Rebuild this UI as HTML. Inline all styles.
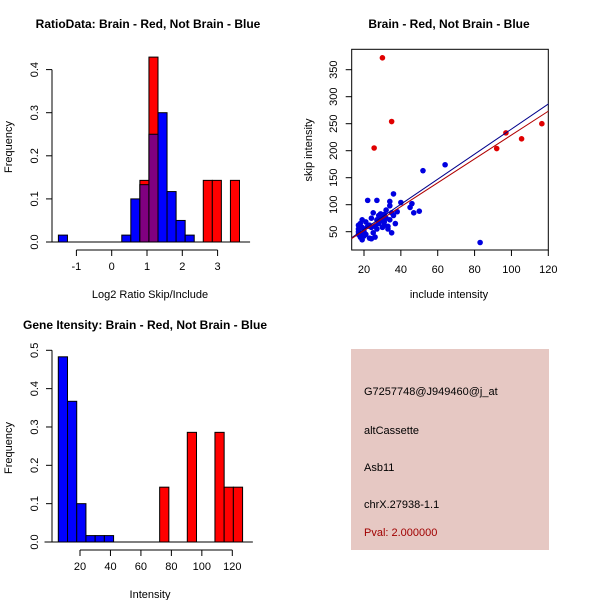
<!DOCTYPE html>
<html><head><meta charset="utf-8"><style>
body{margin:0;background:#fff}
svg{display:block;font-family:"Liberation Sans",sans-serif}
</style></head><body>
<svg id="s" width="600" height="600" xmlns="http://www.w3.org/2000/svg">
<rect width="600" height="600" fill="#fff"/>
<text x="148" y="28" font-size="12" font-weight="bold" text-anchor="middle">RatioData: Brain - Red, Not Brain - Blue</text>
<text x="449" y="28" font-size="12" font-weight="bold" text-anchor="middle">Brain - Red, Not Brain - Blue</text>
<text x="145" y="329" font-size="12" font-weight="bold" text-anchor="middle">Gene Itensity: Brain - Red, Not Brain - Blue</text>
<text x="150" y="298" font-size="11" text-anchor="middle">Log2 Ratio Skip/Include</text>
<text x="12" y="147" font-size="11" text-anchor="middle" transform="rotate(-90 12 147)">Frequency</text>
<text x="449" y="298" font-size="11" text-anchor="middle">include intensity</text>
<text x="312" y="150" font-size="11" text-anchor="middle" transform="rotate(-90 312 150)">skip intensity</text>
<text x="150" y="598" font-size="11" text-anchor="middle">Intensity</text>
<text x="12" y="448" font-size="11" text-anchor="middle" transform="rotate(-90 12 448)">Frequency</text>
<g>
<rect x="351" y="349" width="198" height="201" fill="#E6C8C3"/>
<text x="364" y="395" font-size="11">G7257748@J949460@j_at</text>
<text x="364" y="434" font-size="11">altCassette</text>
<text x="364" y="471" font-size="11">Asb11</text>
<text x="364" y="508" font-size="11">chrX.27938-1.1</text>
<text x="364" y="536" font-size="11" fill="#A00000">Pval: 2.000000</text>
</g>
<g id="g1"></g><g id="g2"></g><g id="g3"></g>
</svg>
<script>
// Ratio histogram data
const ratioBinStart = -1.51, ratioBinWidth = 0.2565;
const ratioBlueBins = [0,7,8,9,10,11,12,13,14];
const ratioBlueVals = [0.016,0.016,0.1,0.133,0.25,0.3,0.117,0.05,0.016];
const ratioRedBins = [9,10,16,17,19];
const ratioRedVals = [0.143,0.429,0.143,0.143,0.143];
const ratioXTicks = [-1,0,1,2,3];
const ratioYTicks = [0,0.1,0.2,0.3,0.4];
// Intensity histogram data
const intBinStart = 5.75, intBinWidth = 6.05;
const intBlueBins = [0,1,2,3,4,5];
const intBlueVals = [0.483,0.367,0.1,0.0167,0.0167,0.0167];
const intRedBins = [11,14,17,18,19];
const intRedVals = [0.143,0.286,0.286,0.143,0.143];
const intXTicks = [20,40,60,80,100,120];
const intYTicks = [0,0.1,0.2,0.3,0.4,0.5];
// Scatter data
const redX = [30,35,25.5,92,97,105.5,116.5];
const redY = [372,254,205,204,233,222,250];
const blueX = [17,17,17,17,18,18,18,19,19,19,20,20,20,21,22,22,23,23,24,24,24,25,25,26,26,27,27,28,28,29,29,30,30,30,31,31,32,32,33,33,34,34,34,35,35,36,37,38,40,45,46,47,50,52,64,83,31,27,21,36];
const blueY = [45,50,55,62,40,48,65,35,58,72,42,50,55,68,60,108,38,62,37,58,75,48,85,40,60,108,72,80,65,83,75,58,70,78,82,62,90,75,60,55,72,106,98,48,85,120,65,87,104,95,102,85,88,163,174,30,68,55,45,80];
const blueLine = [8, 2.32];   // intercept, slope
const redLine = [8, 2.21];
const scXTicks = [20,40,60,80,100,120];
const scYTicks = [50,100,150,200,250,300,350];

const NS = "http://www.w3.org/2000/svg";
function mk(parent, tag, attrs){const e=document.createElementNS(NS,tag);for(const k in attrs)e.setAttribute(k,attrs[k]);parent.appendChild(e);return e;}

function hist(g, o){
  const X=v=>o.x0px+(v-o.xv0)*o.kx, Y=v=>o.y0px-v*o.ky;
  const blueMap={};o.bb.forEach((b,i)=>blueMap[b]=o.bv[i]);
  o.bb.forEach((b,i)=>{
    const x1=X(o.bs+b*o.bw),x2=X(o.bs+(b+1)*o.bw);
    const r=mk(g,'rect',{x:x1,y:Y(o.bv[i]),width:x2-x1,height:Y(0)-Y(o.bv[i]),fill:'#0000FF',stroke:'#000','stroke-width':1});
    
    
  });
  o.rb.forEach((b,i)=>{
    const x1=X(o.bs+b*o.bw),x2=X(o.bs+(b+1)*o.bw);
    const r=mk(g,'rect',{x:x1,y:Y(o.rv[i]),width:x2-x1,height:Y(0)-Y(o.rv[i]),fill:'#FF0000',stroke:'#000','stroke-width':1});
    
    
    if(blueMap[b]!==undefined){
      const m=Math.min(blueMap[b],o.rv[i]);
      const p=mk(g,'rect',{x:x1,y:Y(m),width:x2-x1,height:Y(0)-Y(m),fill:'#800080',stroke:'#000','stroke-width':1});
      
      
    }
  });
  mk(g,'line',{x1:X(o.xmin),x2:X(o.xmax),y1:Y(0),y2:Y(0),stroke:'#000'});
  const ya=mk(g,'line',{x1:o.yaxX,x2:o.yaxX,y1:Y(o.yt[0]),y2:Y(o.yt[o.yt.length-1]),stroke:'#000'});
  
  
  o.yt.forEach(t=>{
    mk(g,'line',{x1:o.yaxX-6,x2:o.yaxX,y1:Y(t),y2:Y(t),stroke:'#000'});
    const bx=o.yaxX-14;
    const tx=mk(g,'text',{x:bx,y:Y(t),'font-size':11,'text-anchor':'middle',transform:`rotate(-90 ${bx} ${Y(t)})`});
    tx.textContent=t.toFixed(1);
    
    
  });
  const xa=mk(g,'line',{x1:X(o.xt[0]),x2:X(o.xt[o.xt.length-1]),y1:o.xaxY,y2:o.xaxY,stroke:'#000'});
  
  
  o.xt.forEach(t=>{
    mk(g,'line',{x1:X(t),x2:X(t),y1:o.xaxY,y2:o.xaxY+6,stroke:'#000'});
    const tx=mk(g,'text',{x:X(t),y:o.xaxY+20,'font-size':11,'text-anchor':'middle'});
    tx.textContent=t;
    
    
  });
}
hist(document.getElementById('g1'),{x0px:111.7,xv0:0,kx:35.3,y0px:242,ky:431,bs:ratioBinStart,bw:ratioBinWidth,
  bb:ratioBlueBins,bv:ratioBlueVals,rb:ratioRedBins,rv:ratioRedVals,xt:ratioXTicks,yt:ratioYTicks,yaxX:52,xaxY:250,xmin:-1.7,xmax:3.92});
hist(document.getElementById('g3'),{x0px:80,xv0:20,kx:1.523,y0px:542,ky:383.4,bs:intBinStart,bw:intBinWidth,
  bb:intBlueBins,bv:intBlueVals,rb:intRedBins,rv:intRedVals,xt:intXTicks,yt:intYTicks,yaxX:52,xaxY:550,xmin:-3.3,xmax:133.5});

// scatter
(function(){
  const g=document.getElementById('g2');
  const X=v=>364+(v-20)*1.843, Y=v=>231.7-(v-50)*0.54;
  const box=mk(g,'rect',{x:351.7,y:49.3,width:196.6,height:200.7,fill:'none',stroke:'#000'});
  
  
  const cp=mk(g,'clipPath',{id:'cp'});mk(cp,'rect',{x:351.7,y:49.3,width:196.6,height:200.7});
  const lg=mk(g,'g',{'clip-path':'url(#cp)'});
  blueX.forEach((x,i)=>{const c=mk(lg,'circle',{cx:X(x),cy:Y(blueY[i]),r:2.8,fill:'#0000E0'});
    
    });
  redX.forEach((x,i)=>{const c=mk(lg,'circle',{cx:X(x),cy:Y(redY[i]),r:2.8,fill:'#E00000'});
    
    });
  [[blueLine,'#00008B','blue-fit-line'],[redLine,'#B00000','red-fit-line']].forEach(([l,c,n])=>{
    const e=mk(lg,'line',{x1:X(13),y1:Y(l[0]+l[1]*13),x2:X(121),y2:Y(l[0]+l[1]*121),stroke:c,'stroke-width':1});
    
    
  });
  scXTicks.forEach(t=>{mk(g,'line',{x1:X(t),x2:X(t),y1:250,y2:256,stroke:'#000'});
    const tx=mk(g,'text',{x:X(t),y:273,'font-size':11,'text-anchor':'middle'});tx.textContent=t;
    
    });
  scYTicks.forEach(t=>{mk(g,'line',{x1:345.7,x2:351.7,y1:Y(t),y2:Y(t),stroke:'#000'});
    const tx=mk(g,'text',{x:337,y:Y(t),'font-size':11,'text-anchor':'middle',transform:`rotate(-90 337 ${Y(t)})`});tx.textContent=t;
    
    });
})();
</script>
</body></html>
